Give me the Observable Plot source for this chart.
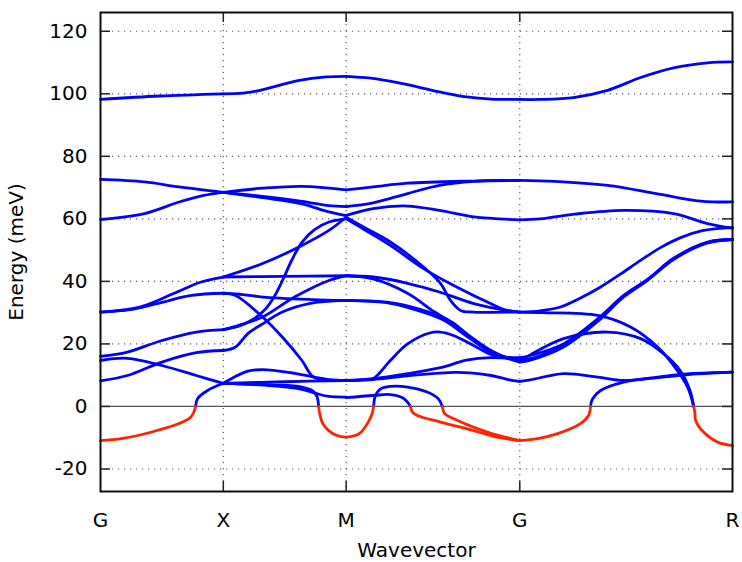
<!DOCTYPE html>
<html>
<head>
<meta charset="utf-8">
<script src="https://cdn.jsdelivr.net/npm/d3@7"></script>
<script src="https://cdn.jsdelivr.net/npm/@observablehq/plot@0.6"></script>
<style>
  html, body { margin: 0; padding: 0; background: white; }
</style>
</head>
<body>
<div id="chart"></div>
<script>
// High-symmetry points along the path (path length, cubic BZ units)
const xTickPos = [0, 0.5, 1.0, 1.707, 2.573];
const xTickLabels = ["G", "X", "M", "G", "R"];
const yTicks = [-20, 0, 20, 40, 60, 80, 100, 120];

// ---- Blue (real) branches: [wavevector, energy meV] ----
// G -> X
const gx1 = [[0,98.2],[0.24,99.3],[0.5,100]];
const gx2 = [[0,72.6],[0.18,71.8],[0.32,70.2],[0.5,68.5]];
const gx3 = [[0,59.8],[0.18,61.7],[0.32,65.4],[0.42,67.5],[0.5,68.5]];
const gx4 = [[0,30.2],[0.16,31.8],[0.30,36.2],[0.41,39.8],[0.5,41.4]];
const gx5 = [[0,30.2],[0.12,31],[0.23,32.9],[0.37,35.5],[0.5,36.2]];
const gx6 = [[0,16],[0.11,17.4],[0.25,21.1],[0.39,23.8],[0.5,24.6]];
const gx7 = [[0,14.7],[0.11,15.4],[0.25,13.1],[0.39,9.9],[0.5,7.4]];
const gx8 = [[0,8.2],[0.11,9.9],[0.25,14.2],[0.39,17.2],[0.5,17.9]];
const gx9 = [[0.387,0],[0.395,2.5],[0.436,5.1],[0.5,7.4]];
// X -> M
const xm1 = [[0.5,100],[0.58,100.2],[0.65,101.1],[0.81,104.3],[0.92,105.4],[1,105.6]];
const xm2 = [[0.5,68.5],[0.66,69.8],[0.82,70.4],[1,69.3]];
const xm3 = [[0.5,68.5],[0.66,67.2],[0.82,65.6],[0.93,64.2],[1,63.9]];
const xm4 = [[0.5,68.5],[0.66,66.8],[0.82,64.8],[0.93,62.2],[1,61]];
const xm5 = [[0.5,41.4],[0.66,45.7],[0.82,51.5],[0.93,56.3],[1,60.5]];
const xm6 = [[0.5,41.4],[0.75,41.6],[1,41.8]];
const xm7 = [[0.5,24.6],[0.56,25.6],[0.62,27.8],[0.67,31],[0.71,35.5],[0.745,41],[0.78,47],[0.82,52.5],[0.87,56.5],[0.93,59],[1,60]];
const xm8 = [[0.5,24.6],[0.56,25.9],[0.66,28.6],[0.79,35],[0.93,40.3],[1,41.8]];
const xm9 = [[0.5,36.2],[0.58,35.8],[0.66,35],[0.86,34.2],[1,33.9]];
const xm10 = [[0.5,17.9],[0.55,19],[0.60,23.3],[0.66,26.4],[0.74,30.2],[0.85,32.9],[1,33.9]];
const xm11 = [[0.5,36.2],[0.55,35.5],[0.66,28.6],[0.74,22.2],[0.82,14.7],[0.867,9.4],[0.93,8.4],[1,8.3]];
const xm12 = [[0.5,7.4],[0.75,7.9],[1,8.3]];
const xm13 = [[0.5,7.4],[0.54,9.2],[0.60,11.3],[0.66,11.8],[0.79,10.6],[0.93,8.6],[1,8.3]];
const xm14 = [[0.5,7.4],[0.7,6.6],[0.82,5.5],[0.88,4.1],[0.93,3.2],[1,3.0]];
const xm15 = [[0.5,7.4],[0.7,6.9],[0.82,6.2],[0.865,5.0],[0.882,3.0],[0.888,0]];
// M -> G
const mg1 = [[1,105.6],[1.1,105],[1.22,103.4],[1.38,100.6],[1.49,99],[1.59,98.3],[1.707,98.2]];
const mg2 = [[1,69.3],[1.11,70.2],[1.25,71.4],[1.52,72.1],[1.707,72.3]];
const mg3 = [[1,63.9],[1.11,65.1],[1.25,68.1],[1.38,70.7],[1.52,72],[1.707,72.3]];
const mg4 = [[1,61.1],[1.11,63.3],[1.25,64.1],[1.38,62.7],[1.52,60.6],[1.707,59.7]];
const mg5 = [[1,60.5],[1.08,57],[1.18,52.6],[1.315,44.6],[1.384,39.4],[1.425,33.9],[1.466,30.7],[1.52,30.2],[1.707,30.2]];
const mg6 = [[1,60],[1.08,56.3],[1.18,51.5],[1.315,44.1],[1.45,38.2],[1.588,32.9],[1.65,30.8],[1.707,30.2]];
const mg7 = [[1,41.8],[1.11,41.4],[1.25,39.4],[1.38,36.6],[1.52,32.9],[1.655,30.7],[1.707,30.2]];
const mg8 = [[1,41.8],[1.11,40.8],[1.25,36.2],[1.36,30.2],[1.44,26.5],[1.49,23.3],[1.59,17.9],[1.65,15.8],[1.707,15.2]];
const mg9 = [[1,33.9],[1.18,33.2],[1.29,31.3],[1.384,28.6],[1.49,22.7],[1.59,17.4],[1.707,14.2]];
const mg10 = [[1,33.9],[1.18,33],[1.3,30.5],[1.4,27.5],[1.5,22],[1.6,17],[1.707,14.8]];
const mg11 = [[1,8.3],[1.07,8.5],[1.11,8.9],[1.18,14.7],[1.25,20],[1.34,23.5],[1.384,23.8],[1.437,22.7],[1.519,19.5],[1.6,16.3],[1.707,15.6]];
const mg12 = [[1,8.3],[1.11,8.9],[1.25,10.5],[1.384,12.4],[1.49,14.8],[1.59,15.6],[1.707,15.2]];
const mg13 = [[1,8.3],[1.11,8.6],[1.25,9.8],[1.45,10.9],[1.59,9.9],[1.66,8.6],[1.707,8.0]];
const mg14 = [[1,2.8],[1.11,3.5],[1.18,3.8],[1.23,2.8],[1.25,1.4],[1.262,0]];
const mg15 = [[1.112,0],[1.12,3.7],[1.14,5.6],[1.18,6.4],[1.25,6.2],[1.33,4.6],[1.375,2.5],[1.392,0]];
// G -> R
const gr1 = [[1.707,98.2],[1.79,98.2],[1.926,98.8],[2.064,101.1],[2.199,105.2],[2.333,108.3],[2.471,109.9],[2.573,110.2]];
const gr2 = [[1.707,72.3],[1.85,72],[2.064,70.7],[2.268,68],[2.443,65.7],[2.573,65.4]];
const gr3 = [[1.707,59.7],[1.79,60],[1.93,61.5],[2.13,62.7],[2.333,61.7],[2.471,58.5],[2.573,57]];
const gr4 = [[1.707,30.2],[1.79,30.6],[1.873,31.8],[1.95,34.5],[2.036,38.2],[2.12,42.5],[2.2,46.8],[2.28,50.8],[2.362,54],[2.45,56.2],[2.525,57],[2.573,57.2]];
const gr5 = [[1.707,15.6],[1.75,16.3],[1.885,20],[2.024,28],[2.13,35.5],[2.23,40.8],[2.333,47.4],[2.471,52.6],[2.573,53.4]];
const gr6 = [[1.707,14.2],[1.75,14.8],[1.885,19],[2.024,27.2],[2.13,35],[2.23,40.5],[2.333,47],[2.471,52.3],[2.573,53.4]];
const gr7 = [[1.707,14.8],[1.76,15.5],[1.885,19.5],[2.024,27.6],[2.13,35.3],[2.23,40.7],[2.333,47.2],[2.471,52.4],[2.573,53.4]];
const gr8 = [[1.707,14.5],[1.75,16.5],[1.885,21.7],[2.064,23.8],[2.199,21.7],[2.292,16.9],[2.36,11.5],[2.40,5.1],[2.415,0]];
const gr9 = [[1.707,30.2],[1.8,30],[2.024,29.1],[2.158,25.4],[2.268,19],[2.333,13.1],[2.39,6.2],[2.415,0]];
const gr10 = [[1.707,8.0],[1.75,8.5],[1.885,10.5],[2.024,9.4],[2.13,8.3],[2.29,9.4],[2.43,10.4],[2.573,11]];
const gr11 = [[1.995,0],[2.003,2.4],[2.036,5.1],[2.13,7.8],[2.268,9.4],[2.40,10.5],[2.573,11]];

// ---- Red (imaginary, shown negative) branches ----
const red1 = [[0,-10.9],[0.09,-10.2],[0.23,-7.7],[0.366,-3.5],[0.387,0]];
const red2 = [[0.888,0],[0.893,-2.5],[0.905,-5.5],[0.93,-7.8],[0.96,-9.2],[1,-9.8],[1.04,-9.2],[1.06,-8.3],[1.09,-5],[1.105,-2.5],[1.112,0]];
const red3 = [[1.262,0],[1.27,-1.8],[1.29,-2.9],[1.384,-5],[1.52,-7.7],[1.615,-9.8],[1.707,-10.9]];
const red4 = [[1.392,0],[1.40,-2.2],[1.454,-4.5],[1.575,-8.2],[1.657,-10],[1.707,-10.9]];
const red5 = [[1.707,-10.9],[1.78,-10.3],[1.861,-8.7],[1.954,-5.5],[1.987,-2.9],[1.995,0]];
const red6 = [[2.415,0],[2.42,-2],[2.423,-4.5],[2.455,-8.2],[2.512,-11.4],[2.573,-12.5]];

const blueBands = [gx1,gx2,gx3,gx4,gx5,gx6,gx7,gx8,gx9,
  xm1,xm2,xm3,xm4,xm5,xm6,xm7,xm8,xm9,xm10,xm11,xm12,xm13,xm14,xm15,
  mg1,mg2,mg3,mg4,mg5,mg6,mg7,mg8,mg9,mg10,mg11,mg12,mg13,mg14,mg15,
  gr1,gr2,gr3,gr4,gr5,gr6,gr7,gr8,gr9,gr10,gr11];
const redBands = [red1,red2,red3,red4,red5,red6];

const toRows = (bands, tag) => bands.flatMap((pts, i) => pts.map(([k, e]) => ({k, e, id: tag + i})));
const blueRows = toRows(blueBands, "b");
const redRows = toRows(redBands, "r");

const W = 742, H = 562;
const mL = 100, mR = 10, mT = 12, mB = 71;
const plotW = W - mL - mR, plotH = H - mT - mB;
const tickLen = 10;
const innerX = xTickPos.slice(1, 4);

const chart = Plot.plot({
  width: W,
  height: H,
  marginLeft: mL,
  marginRight: mR,
  marginTop: mT,
  marginBottom: mB,
  style: {fontFamily: "DejaVu Sans", fontSize: "20px", color: "black", background: "white"},
  x: {domain: [0, 2.573]},
  y: {domain: [-27.2, 126]},
  marks: [
    Plot.gridY(yTicks.filter(d => d !== 0), {stroke: "#444", strokeOpacity: 0.85, strokeWidth: 1.2, strokeDasharray: "1.2,4.8"}),
    Plot.gridX(innerX, {stroke: "#444", strokeOpacity: 0.85, strokeWidth: 1.2, strokeDasharray: "1.2,4.8"}),
    Plot.ruleY([0], {stroke: "#555", strokeWidth: 1.2}),
    Plot.tickY(yTicks, {y: d => d, insetRight: plotW - tickLen, stroke: "#222", strokeWidth: 1.5}),
    Plot.tickY(yTicks, {y: d => d, insetLeft: plotW - tickLen, stroke: "#222", strokeWidth: 1.5}),
    Plot.tickX(innerX, {x: d => d, insetBottom: plotH - tickLen, stroke: "#222", strokeWidth: 1.5}),
    Plot.tickX(innerX, {x: d => d, insetTop: plotH - tickLen, stroke: "#222", strokeWidth: 1.5}),
    Plot.line(blueRows, {x: "k", y: "e", z: "id", stroke: "#0000ff", strokeWidth: 2.8, curve: "catmull-rom", strokeLinecap: "round", strokeLinejoin: "round"}),
    Plot.line(redRows, {x: "k", y: "e", z: "id", stroke: "#ff2200", strokeWidth: 2.8, curve: "catmull-rom", strokeLinecap: "round", strokeLinejoin: "round"}),
    Plot.frame({stroke: "#111", strokeWidth: 2}),
    Plot.axisY(yTicks, {tickSize: 0, tickPadding: 13, fontSize: 20, tickFormat: d => String(d),
      label: "Energy (meV)", labelAnchor: "center", labelOffset: 92, labelArrow: "none"}),
    Plot.axisX(xTickPos, {tickSize: 0, tickPadding: 21, fontSize: 20,
      tickFormat: d => xTickLabels[xTickPos.indexOf(d)],
      label: "Wavevector", labelAnchor: "center", labelOffset: 65, labelArrow: "none"})
  ]
});
document.getElementById("chart").appendChild(chart);
</script>
</body>
</html>
